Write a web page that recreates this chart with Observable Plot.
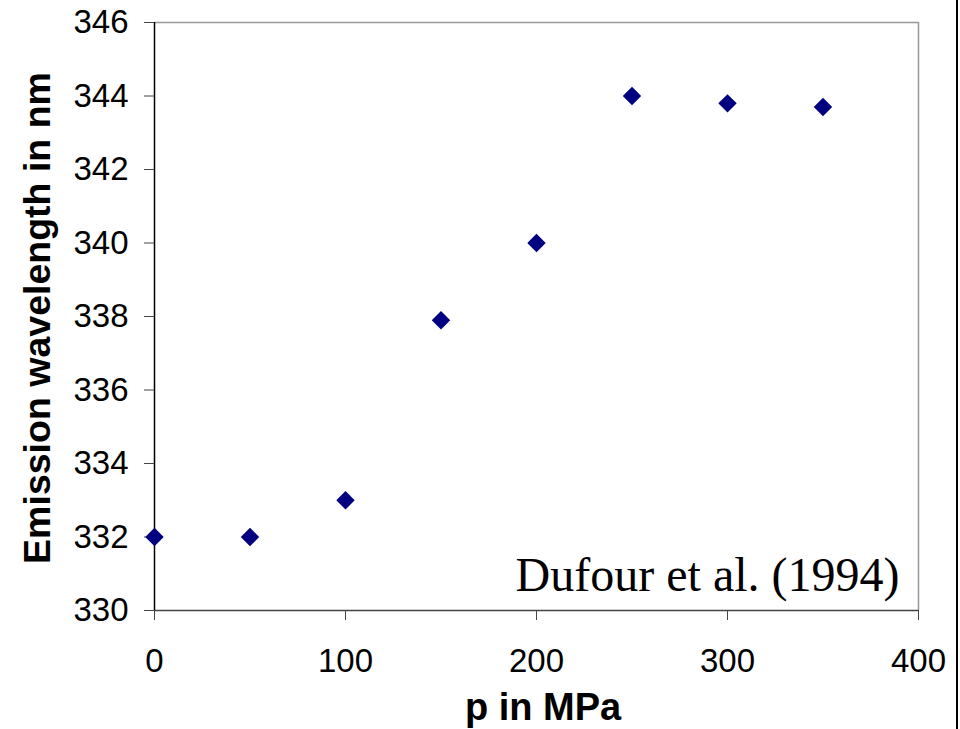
<!DOCTYPE html>
<html>
<head>
<meta charset="utf-8">
<script src="https://cdn.jsdelivr.net/npm/d3@7"></script>
<script src="https://cdn.jsdelivr.net/npm/@observablehq/plot@0.6"></script>
<style>
  html, body { margin: 0; padding: 0; background: #fff; }
  #wrap { position: relative; width: 960px; height: 729px; }
  #edge { position: absolute; left: 956px; top: 0; width: 2px; height: 729px; background: #000; }
</style>
</head>
<body>
<div id="wrap"><div id="edge"></div></div>
<script>
const pressure = [0, 50, 100, 150, 200, 250, 300, 350];
const wavelength = [332, 332, 333, 337.9, 340, 344, 343.8, 343.7];
const xTicks = [0, 100, 200, 300, 400];
const yTicks = [330, 332, 334, 336, 338, 340, 342, 344, 346];
const xLabel = "p in MPa";
const yLabel = "Emission wavelength in nm";
const note = "Dufour et al. (1994)";

const data = pressure.map((p, i) => ({p, w: wavelength[i]}));

const chart = Plot.plot({
  width: 960,
  height: 729,
  marginLeft: 154,
  marginRight: 42,
  marginTop: 22,
  marginBottom: 119,
  style: {fontFamily: "Liberation Sans, Arial, sans-serif", fontSize: "33px", color: "#000", background: "#fff", overflow: "visible"},
  x: {domain: [0, 400], ticks: xTicks},
  y: {domain: [330, 346], ticks: yTicks},
  marks: [
    Plot.ruleY([346], {stroke: "#999", strokeWidth: 1.5}),
    Plot.ruleX([400], {stroke: "#999", strokeWidth: 1.5}),
    Plot.ruleY([330], {stroke: "#444", strokeWidth: 1.5}),
    Plot.ruleX([0], {stroke: "#000", strokeWidth: 1.5}),
    Plot.axisX({ticks: xTicks, tickSize: 10, tickPadding: 28, tickFormat: d => String(d), stroke: "#444", label: null, fontSize: 33}),
    Plot.axisY({ticks: yTicks, tickSize: 10, tickPadding: 16, tickFormat: d => String(d), stroke: "#444", label: null, fontSize: 33}),
    Plot.dot(data, {x: "p", y: "w", symbol: "diamond2", r: 8.3, fill: "#000080", stroke: "none"}),
    Plot.text([note], {frameAnchor: "bottom-right", dx: -19, dy: -20, text: d => d, fontFamily: "Liberation Serif, Times New Roman, serif", fontSize: 48, fill: "#000", textAnchor: "end", lineAnchor: "bottom"})
  ]
});

const svg = d3.select(chart);
svg.append("text")
  .attr("x", 543).attr("y", 720)
  .attr("text-anchor", "middle")
  .attr("font-family", "Liberation Sans, Arial, sans-serif")
  .attr("font-weight", "bold").attr("font-size", 38)
  .attr("fill", "#000")
  .text(xLabel);
svg.append("text")
  .attr("transform", "translate(50,318) rotate(-90)")
  .attr("text-anchor", "middle")
  .attr("font-family", "Liberation Sans, Arial, sans-serif")
  .attr("font-weight", "bold").attr("font-size", 37.5)
  .attr("fill", "#000")
  .text(yLabel);

document.getElementById("wrap").appendChild(chart);
</script>
</body>
</html>
